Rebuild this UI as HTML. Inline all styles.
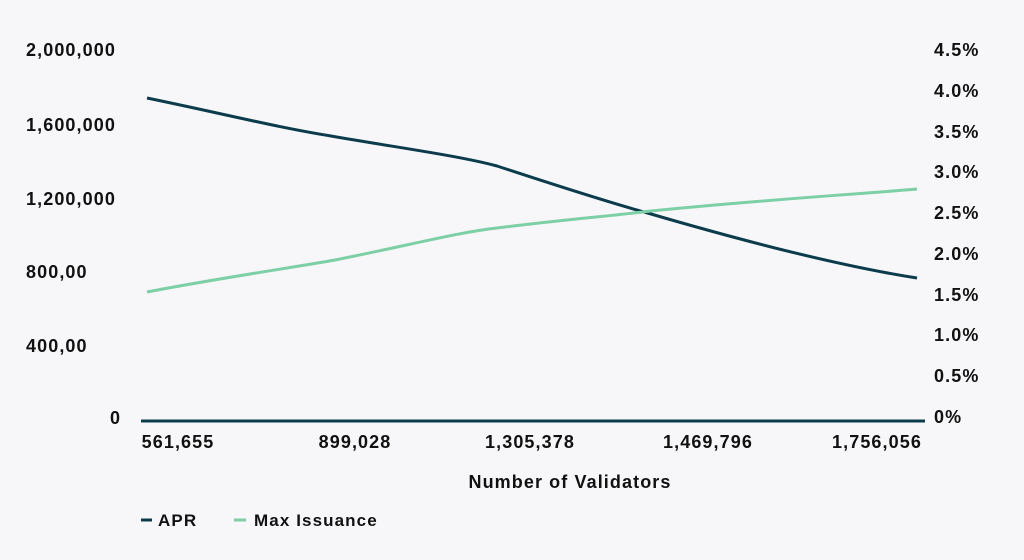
<!DOCTYPE html>
<html><head><style>
html,body{margin:0;padding:0;background:#f7f7f9;}
svg{display:block;}
text{font-family:"Liberation Sans",sans-serif;font-weight:bold;font-size:18px;letter-spacing:1.1px;fill:#111;}
</style></head><body>
<svg width="1024" height="560" viewBox="0 0 1024 560">
<rect width="1024" height="560" fill="#f7f7f9"/>
<g>
<text x="26" y="56">2,000,000</text>
<text x="26" y="131">1,600,000</text>
<text x="26" y="205">1,200,000</text>
<text x="26" y="278">800,00</text>
<text x="26" y="352">400,00</text>
<text x="110" y="424">0</text>
</g>
<g>
<text x="934" y="56">4.5%</text>
<text x="934" y="97">4.0%</text>
<text x="934" y="138">3.5%</text>
<text x="934" y="178">3.0%</text>
<text x="934" y="219">2.5%</text>
<text x="934" y="260">2.0%</text>
<text x="934" y="301">1.5%</text>
<text x="934" y="341">1.0%</text>
<text x="934" y="382">0.5%</text>
<text x="934" y="423">0%</text>
</g>
<g text-anchor="middle">
<text x="178" y="448">561,655</text>
<text x="355" y="448">899,028</text>
<text x="530" y="448">1,305,378</text>
<text x="708" y="448">1,469,796</text>
<text x="877" y="448">1,756,056</text>
<text x="570" y="488">Number of Validators</text>
</g>
<line x1="141" y1="421" x2="925" y2="421" stroke="#0c3c4c" stroke-width="3"/>
<path d="M147,98 C220,113 280,128 331,136 C400,148 460,156 497,166 C540,180 600,200 651,214 C740,240 840,266 917,278" fill="none" stroke="#0c3c4c" stroke-width="3"/>
<path d="M147,292 C220,278 290,268 335,260 C410,245 460,232 497,228 C560,220 600,217 651,211 C760,200 860,194 917,189" fill="none" stroke="#7dcfa6" stroke-width="3"/>
<line x1="141" y1="520" x2="152" y2="520" stroke="#0c3c4c" stroke-width="3"/>
<text x="158" y="526" style="font-size:17px">APR</text>
<line x1="234" y1="520" x2="246" y2="520" stroke="#7dcfa6" stroke-width="3"/>
<text x="254" y="526" style="font-size:17px">Max Issuance</text>
</svg>
</body></html>
